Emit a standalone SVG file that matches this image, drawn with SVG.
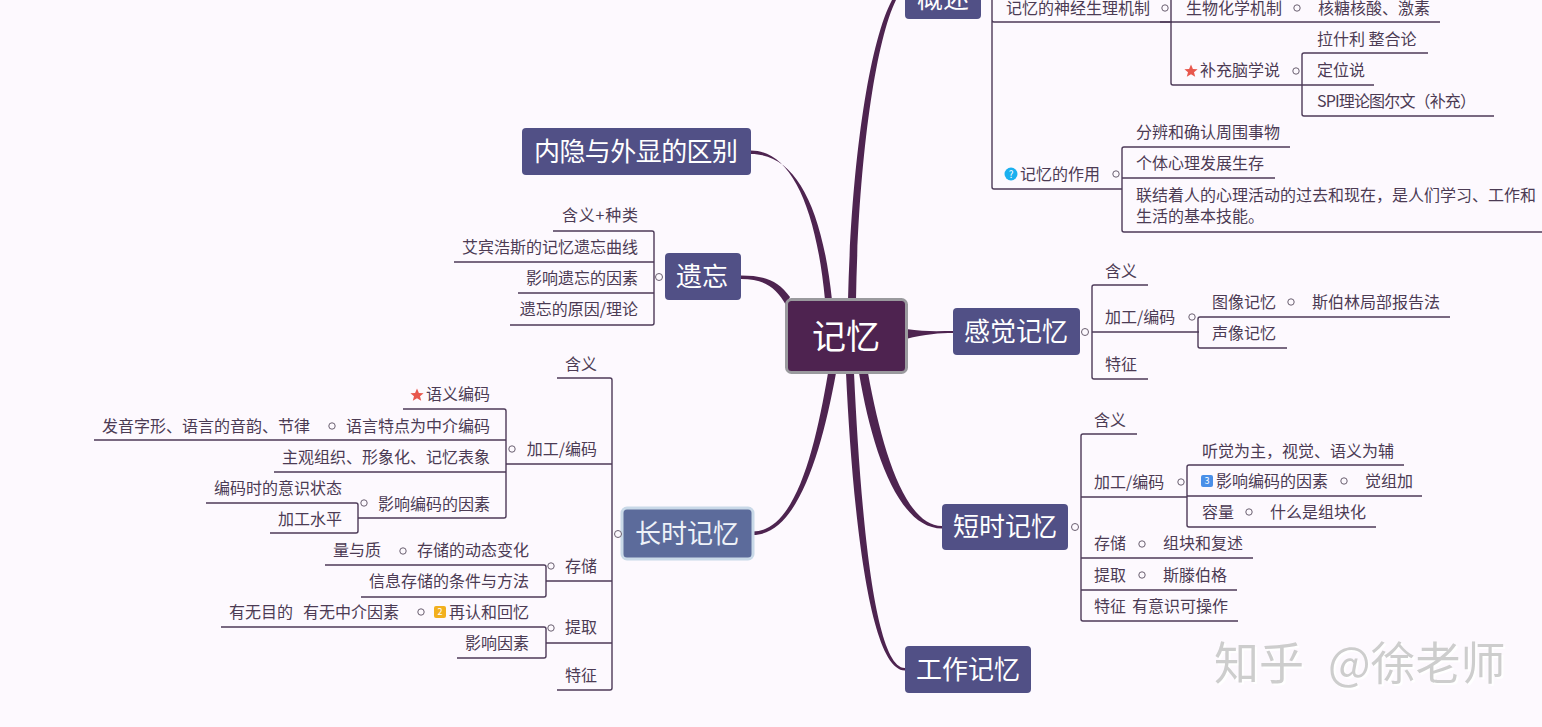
<svg xmlns="http://www.w3.org/2000/svg" width="1542" height="727" viewBox="0 0 1542 727">
<style>
text{font-family:"Noto Sans CJK SC","Noto Sans",sans-serif}
.l{font-size:16px;fill:#4c3b54}
.e{text-anchor:end}
.m{font-size:26px;fill:#fff;text-anchor:middle}
.n{fill:#515086}
.c{fill:none;stroke:#4d3a58;stroke-width:1.4}
.t{fill:#4e2450}
.k{fill:#fdf9fe;stroke:#6a5f70;stroke-width:1}
.i{font-size:9px;fill:#fff;text-anchor:middle}
</style>
<defs>
<path id="star" d="M0,-6.500 L1.900,-2 L6.600,-1.800 L3,1.200 L4.200,5.800 L0,3.300 L-4.200,5.800 L-3,1.200 L-6.600,-1.800 L-1.900,-2Z" fill="#e8574d"/>
<filter id="sh" x="-5%" y="-5%" width="110%" height="115%"><feDropShadow dx="2" dy="2" stdDeviation="0.5" flood-color="#ffffff"/></filter>
</defs>
<rect width="1542" height="727" fill="#fdf9fe"/>
<g id="connectors">
<path class="t" d="M848,300 C851,170 868,45 892,0 L896,0 C874,45 858,170 856,300Z"/>
<path class="t" d="M751,150.500 C790,150.500 816,205 825,300 L832,300 C822,205 795,154 751,154Z"/>
<path class="t" d="M741,275.500 C765,275.500 778,281 790,297 L786,305 C776,288 765,279 741,279Z"/>
<path class="t" d="M906,329 C925,332 940,331 953,331 L953,333 C940,333 925,334 906,339Z"/>
<path class="t" d="M859,373 C872,450 898,528.500 942,528.500 L942,526 C905,526 882,450 868,373Z"/>
<path class="t" d="M846,373 C852,500 868,670.500 905,670.500 L905,668 C873,668 860,500 854,373Z"/>
<path class="t" d="M828,373 C815,450 795,531.500 753,531.500 L753,535 C798,535 822,450 836,373Z"/>
<!-- overview -->
<path class="c" d="M992,0V187q0,2 2,2H1122M992,20q0,2 2,2H1172"/>
<path class="c" d="M1171,0V83q0,2 2,2H1374M1160,22H1440"/>
<path class="c" d="M1428,53H1304q-2,0 -2,2V114q0,2 2,2H1494"/>
<path class="c" d="M1290,147H1124q-2,0 -2,2V230q0,2 2,2H1542M1122,178H1275"/>
<!-- forgetting -->
<path class="c" d="M553,231H652q2,0 2,2V323q0,2 -2,2H510M454,262H654M518,293H654"/>
<!-- sensory -->
<path class="c" d="M1148,285H1094q-2,0 -2,2V377q0,2 2,2H1148M1092,332H1199"/>
<path class="c" d="M1450,317H1200q-2,0 -2,2V346q0,2 2,2H1287"/>
<!-- short term -->
<path class="c" d="M1137,434H1083q-2,0 -2,2V619q0,2 2,2H1238M1081,497H1187M1081,558H1253M1081,590H1237"/>
<path class="c" d="M1404,465H1189q-2,0 -2,2V525q0,2 2,2H1376M1187,496H1422"/>
<!-- long term -->
<path class="c" d="M557,378H610q2,0 2,2V688q0,2 -2,2H557M506,464H612M546,581H612M546,643H612"/>
<path class="c" d="M403,409H504q2,0 2,2V516q0,2 -2,2H358M94,440H506M274,472H506"/>
<path class="c" d="M206,503H356q2,0 2,2V531q0,2 -2,2H270"/>
<path class="c" d="M325,565H544q2,0 2,2V595q0,2 -2,2H361"/>
<path class="c" d="M221,627H544q2,0 2,2V656q0,2 -2,2H457"/>
</g>
<g id="root"><rect x="786.500" y="299.500" width="120" height="73" rx="5" fill="#4e2350" stroke="#9a9a9e" stroke-width="3"/><text x="846" y="349" font-size="34" fill="#fff" text-anchor="middle">记忆</text></g>
<g id="gaishu"><rect class="n" x="905" y="-20" width="76" height="39" rx="4"/><text class="m" x="943" y="8">概述</text></g>
<g id="neiyin"><rect class="n" x="522" y="128" width="229" height="47" rx="4"/><text class="m" x="636" y="161" textLength="204">内隐与外显的区别</text></g>
<g id="yiwang"><rect class="n" x="665" y="253" width="76" height="47" rx="4"/><text class="m" x="702" y="286">遗忘</text><circle class="k" cx="659" cy="277" r="3.500"/></g>
<g id="ganjue"><rect class="n" x="953" y="308" width="127" height="47" rx="4"/><text class="m" x="1016" y="341">感觉记忆</text><circle class="k" cx="1085" cy="332" r="3.500"/></g>
<g id="duanshi"><rect class="n" x="942" y="504" width="126" height="46" rx="4"/><text class="m" x="1005" y="536">短时记忆</text><circle class="k" cx="1075" cy="527" r="3.500"/></g>
<g id="gongzuo"><rect class="n" x="905" y="646" width="126" height="47" rx="4"/><text class="m" x="968" y="679">工作记忆</text></g>
<g id="changshi"><rect x="622" y="508" width="131" height="51" rx="5" fill="#5c6b9b" stroke="#c9d9e8" stroke-width="3"/><text class="m" x="687" y="543" style="fill:#eef2f8">长时记忆</text><circle class="k" cx="618" cy="534" r="3.500"/></g>

<g id="overview-labels">
<text class="l" x="1006" y="14">记忆的神经生理机制</text><circle class="k" cx="1165" cy="8" r="3.200"/>
<text class="l" x="1186" y="14">生物化学机制</text><circle class="k" cx="1297" cy="8" r="3.200"/>
<text class="l" x="1318" y="14">核糖核酸、激素</text>
<text class="l" x="1317" y="45">拉什利 整合论</text>
<use href="#star" x="1191" y="71"/><text class="l" x="1200" y="76">补充脑学说</text><circle class="k" cx="1296" cy="71" r="3.200"/>
<text class="l" x="1317" y="76">定位说</text>
<text class="l" x="1317" y="107" textLength="159">SPI理论图尔文（补充）</text>
<circle cx="1011" cy="174" r="6.500" fill="#1bb0ef"/><text class="i" x="1011" y="177.500" style="font-size:10px">?</text>
<text class="l" x="1020" y="180">记忆的作用</text><circle class="k" cx="1116" cy="174" r="3.200"/>
<text class="l" x="1136" y="138">分辨和确认周围事物</text>
<text class="l" x="1136" y="169">个体心理发展生存</text>
<text class="l" x="1136" y="201">联结着人的心理活动的过去和现在，是人们学习、工作和</text>
<text class="l" x="1136" y="222">生活的基本技能。</text>
</g>
<g id="forget-labels">
<text class="l" x="562" y="221" textLength="76">含义+种类</text>
<text class="l e" x="638" y="253">艾宾浩斯的记忆遗忘曲线</text>
<text class="l e" x="638" y="284">影响遗忘的因素</text>
<text class="l e" x="638" y="315">遗忘的原因/理论</text>
</g>
<g id="sensory-labels">
<text class="l" x="1105" y="277">含义</text>
<text class="l" x="1105" y="323">加工/编码</text><circle class="k" cx="1192" cy="317" r="3.200"/>
<text class="l" x="1212" y="308">图像记忆</text><circle class="k" cx="1291" cy="302" r="3.200"/>
<text class="l" x="1312" y="308">斯伯林局部报告法</text>
<text class="l" x="1212" y="339">声像记忆</text>
<text class="l" x="1105" y="370">特征</text>
</g>
<g id="short-labels">
<text class="l" x="1094" y="426">含义</text>
<text class="l" x="1094" y="488">加工/编码</text><circle class="k" cx="1181" cy="482" r="3.200"/>
<text class="l" x="1202" y="457">听觉为主，视觉、语义为辅</text>
<rect x="1201" y="475" width="12" height="12" rx="2" fill="#4a8fe8"/><text class="i" x="1207" y="484">3</text>
<text class="l" x="1216" y="487">影响编码的因素</text><circle class="k" cx="1344" cy="481" r="3.200"/>
<text class="l" x="1365" y="487">觉组加</text>
<text class="l" x="1202" y="518">容量</text><circle class="k" cx="1249" cy="512" r="3.200"/>
<text class="l" x="1270" y="518">什么是组块化</text>
<text class="l" x="1094" y="549">存储</text><circle class="k" cx="1142" cy="544" r="3.200"/>
<text class="l" x="1163" y="549">组块和复述</text>
<text class="l" x="1094" y="581">提取</text><circle class="k" cx="1142" cy="575" r="3.200"/>
<text class="l" x="1163" y="581">斯滕伯格</text>
<text class="l" x="1094" y="612">特征 <tspan x="1132">有意识可操作</tspan></text>
</g>
<g id="long-labels">
<text class="l e" x="597" y="370">含义</text>
<text class="l e" x="597" y="455">加工/编码</text><circle class="k" cx="512" cy="449" r="3.200"/>
<use href="#star" x="417" y="395"/><text class="l e" x="490" y="400">语义编码</text>
<text class="l e" x="490" y="432">语言特点为中介编码</text><circle class="k" cx="332" cy="426" r="3.200"/>
<text class="l e" x="310" y="432">发音字形、语言的音韵、节律</text>
<text class="l e" x="490" y="463">主观组织、形象化、记忆表象</text>
<text class="l e" x="490" y="510">影响编码的因素</text><circle class="k" cx="364" cy="503" r="3.200"/>
<text class="l e" x="342" y="494">编码时的意识状态</text>
<text class="l e" x="342" y="525">加工水平</text>
<text class="l e" x="597" y="572">存储</text><circle class="k" cx="551" cy="566" r="3.200"/>
<text class="l e" x="529" y="556">存储的动态变化</text><circle class="k" cx="403" cy="551" r="3.200"/>
<text class="l e" x="381" y="556">量与质</text>
<text class="l e" x="529" y="587">信息存储的条件与方法</text>
<text class="l e" x="597" y="633">提取</text><circle class="k" cx="551" cy="628" r="3.200"/>
<text class="l e" x="529" y="618">再认和回忆</text>
<rect x="434" y="606" width="12" height="12" rx="2" fill="#f2b01e"/><text class="i" x="440" y="615">2</text>
<circle class="k" cx="421" cy="612" r="3.200"/>
<text class="l" x="229" y="618">有无目的 <tspan x="303">有无中介因素</tspan></text>
<text class="l e" x="529" y="649">影响因素</text>
<text class="l e" x="597" y="681">特征</text>
</g>
<g id="watermark"><text x="1214" y="680" font-size="45" fill="#cdcdcd" filter="url(#sh)">知乎 <tspan x="1328">@徐老师</tspan></text></g>
</svg>
